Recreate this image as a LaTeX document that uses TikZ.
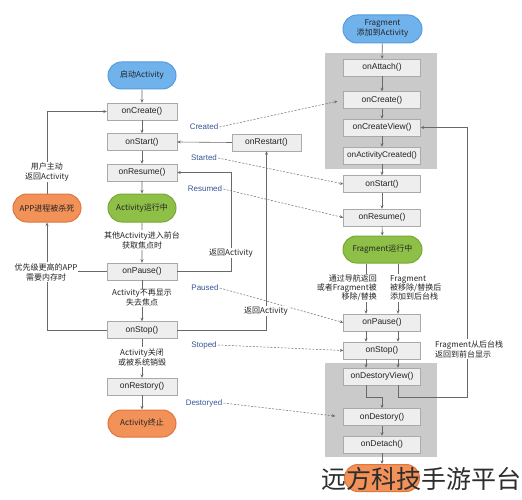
\documentclass[tikz,border=0pt]{standalone}
\usepackage{fontspec}
\setmainfont{Liberation Sans}
\newfontfamily\cjk{Noto Sans CJK SC}
\usetikzlibrary{shapes.misc,arrows.meta,calc}
\definecolor{boxfill}{RGB}{238,238,238}
\definecolor{boxline}{RGB}{170,170,170}
\definecolor{panel}{RGB}{202,202,202}
\definecolor{lin}{RGB}{105,105,105}
\definecolor{bluef}{RGB}{112,178,236}
\definecolor{blued}{RGB}{88,155,222}
\definecolor{greenf}{RGB}{142,192,72}
\definecolor{greend}{RGB}{118,168,52}
\definecolor{orangef}{RGB}{242,145,88}
\definecolor{oranged}{RGB}{222,118,62}
\definecolor{lblue}{RGB}{55,85,150}
\definecolor{txt}{RGB}{35,35,35}
\begin{document}
\begin{tikzpicture}[x=1pt,y=-1pt,
  fn/.style={font=\fontsize{8.5}{10}\selectfont},
  cn/.style={font=\cjk\fontsize{8}{10}\selectfont},
  abox/.style={draw=boxline,fill=boxfill,minimum width=70pt,minimum height=17pt,inner sep=0pt,text=txt,fn},
  fbox/.style={abox,minimum width=77pt},
  pill/.style={rounded rectangle,minimum height=27pt,minimum width=70pt,inner sep=1pt,text=txt,cn,line width=1pt,align=center},
  bluep/.style={pill,fill=bluef,draw=blued},
  greenp/.style={pill,fill=greenf,draw=greend},
  orangep/.style={pill,fill=orangef,draw=oranged},
  arr/.style={draw=lin,line width=0.6pt,-{Stealth[length=3.5pt,width=3pt]}},
  pln/.style={draw=lin,line width=0.6pt},
  dasharr/.style={draw=lin,line width=0.5pt,dash pattern=on 2pt off 1.5pt,-{Stealth[length=3.5pt,width=3pt]}},
  wl/.style={fill=white,inner sep=1pt,text=txt,cn,align=center},
  bl/.style={text=lblue,font=\fontsize{8}{9}\selectfont,inner sep=1pt}
]
\useasboundingbox (0,0) rectangle (522,500);
% panels
\fill[panel] (325,53) rectangle (437,169);
\fill[panel] (325,363) rectangle (437,457);
% activity column
\node[bluep] (aLaunch) at (142,75.5) {启动Activity};
\node[abox] (aCreate) at (142,111.5) {onCreate()};
\node[abox] (aStart) at (142,142) {onStart()};
\node[abox] (aResume) at (142,172.5) {onResume()};
\node[greenp,minimum height=28pt] (aRun) at (142,208) {Activity运行中};
\node[abox] (aPause) at (142,271.5) {onPause()};
\node[abox] (aStop) at (142,330) {onStop()};
\node[abox] (aRestory) at (142,386.5) {onRestory()};
\node[orangep] (aEnd) at (142,423.5) {Activity终止};
\node[orangep,minimum height=28pt] (kill) at (47,208) {APP进程被杀死};
\node[abox,minimum width=69pt] (restart) at (266.5,142.5) {onRestart()};
% fragment column
\node[bluep,minimum width=81pt,minimum height=28pt] (fAdd) at (382.5,29) {Fragment\\添加到Activity};
\node[fbox] (fAttach) at (382,67.5) {onAttach()};
\node[fbox] (fCreate) at (382,100) {onCreate()};
\node[fbox] (fCView) at (382,127.5) {onCreateView()};
\node[fbox,font=\fontsize{8.2}{10}\selectfont] (fACreated) at (382,155.5) {onActivityCreated()};
\node[fbox] (fStart) at (382,184) {onStart()};
\node[fbox] (fResume) at (382,217.5) {onResume()};
\node[greenp,minimum width=81pt] (fRun) at (382.5,249.5) {Fragment运行中};
\node[fbox] (fPause) at (382,322.5) {onPause()};
\node[fbox] (fStop) at (382,350.5) {onStop()};
\node[fbox] (fDView) at (382,376.5) {onDestoryView()};
\node[fbox] (fDestory) at (382,417) {onDestory()};
\node[fbox] (fDetach) at (382,444.5) {onDetach()};
\node[orangep,minimum width=77pt] (fEnd) at (382,478) {};
% helper coordinates
\coordinate (xL) at (366,0);
\coordinate (xR) at (398,0);
\coordinate (rx1) at (231,0);
\coordinate (jL) at (366,397);
\coordinate (jR) at (467,397);
% activity arrows
\draw[arr] (aLaunch) -- (aCreate);
\draw[arr] (aCreate) -- (aStart);
\draw[arr] (aStart) -- (aResume);
\draw[arr] (aResume) -- (aRun);
\draw[arr] (aRun) -- (aPause);
\draw[arr] (aPause) -- (aStop);
\draw[arr] (aStop) -- (aRestory);
\draw[arr] (aRestory) -- (aEnd);
\draw[arr] (kill.north) |- (aCreate.west);
\draw[arr] (aStop.west) -| (kill.south);
\draw[pln] (aPause.west) -- (aPause.west -| kill.south);
\draw[arr] (aPause.east) -| (aResume.east -| rx1) -- (aResume.east);
\draw[arr] (aStop.east) -| (restart.south);
\draw[arr] (restart.west) -- (aStart.east);
% fragment arrows
\draw[arr] (fAdd) -- (fAttach);
\draw[arr] (fAttach) -- (fCreate);
\draw[arr] (fCreate) -- (fCView);
\draw[arr] (fCView) -- (fACreated);
\draw[arr] (fACreated) -- (fStart);
\draw[arr] (fStart) -- (fResume);
\draw[arr] (fResume) -- (fRun);
\draw[arr] (fRun.south -| xL) -- (fPause.north -| xL);
\draw[arr] (fRun.south -| xR) -- (fPause.north -| xR);
\draw[arr] (fPause.south -| xL) -- (fStop.north -| xL);
\draw[arr] (fPause.south -| xR) -- (fStop.north -| xR);
\draw[arr] (fStop.south -| xL) -- (fDView.north -| xL);
\draw[arr] (fStop.south -| xR) -- (fDView.north -| xR);
\draw[arr] (fDView.south -| xL) -- (jL) -| (fDestory.north);
\draw[arr] (fDView.south -| xR) |- (jR) |- (fCView.east);
\draw[arr] (fDestory) -- (fDetach);
\draw[arr] (fDetach) -- (fEnd);
% blue state labels
\node[bl] (lCreated) at (204,127) {Created};
\node[bl] (lStarted) at (204,158) {Started};
\node[bl] (lResumed) at (205,189) {Resumed};
\node[bl] (lPaused) at (205,288) {Paused};
\node[bl] (lStoped) at (204,345) {Stoped};
\node[bl] (lDestoryed) at (204,403) {Destoryed};
\draw[dasharr,shorten >=6pt] (lCreated.east) -- (fCreate.west);
\draw[dasharr] (lStarted.east) -- (fStart.west);
\draw[dasharr] (lResumed.east) -- (fResume.west);
\draw[dasharr] (lPaused.east) -- (fPause.west);
\draw[dasharr] (lStoped.east) -- (fStop.west);
\draw[dasharr,shorten >=8pt] (lDestoryed.east) -- (fDestory.west);
% text labels
\node[wl] (t1) at (142,240) {其他Activity进入前台\\获取焦点时};
\node[wl] (t2) at (142,298) {Activity不再显示\\失去焦点};
\node[wl] (t3) at (142,357) {Activity关闭\\或被系统销毁};
\node[wl] (t4) at (47,172) {用户主动\\返回Activity};
\node[wl] (t5) at (46,272) {优先级更高的APP\\需要内存时};
\node[wl] (t6) at (231,253) {返回Activity};
\node[wl] (t7) at (266,311) {返回Activity};
\node[wl,anchor=east,align=right,font=\cjk\fontsize{8}{9.3}\selectfont] (t8) at (378,288) {通过导航返回\\或者Fragment被\\移除/替换};
\node[wl,anchor=west,align=left,font=\cjk\fontsize{8}{9.3}\selectfont] (t9) at (389,288) {Fragment\\被移除/替换后\\添加到后台栈};
\node[wl,anchor=west,align=left] (t10) at (434,349) {Fragment从后台栈\\返回到前台显示};
% watermark
\node[text={rgb,255:red,45;green,45;blue,45},font=\cjk\fontsize{25}{25}\selectfont,inner sep=0pt,anchor=east] (wm) at (522,479) {远方科技手游平台};
\end{tikzpicture}
\end{document}
